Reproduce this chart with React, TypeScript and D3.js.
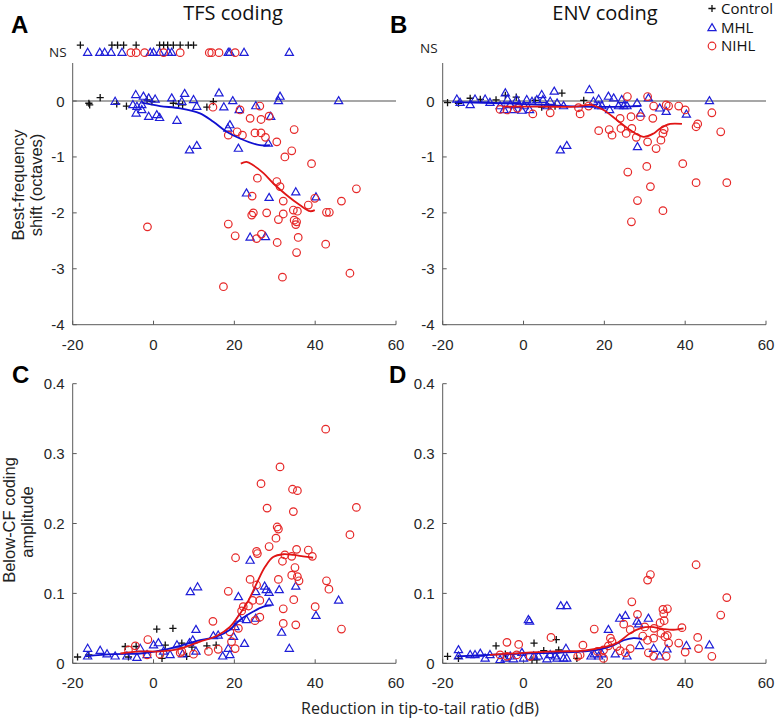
import React from "react";
import * as d3 from "d3";

type P = [number, number];

// ---------- tick labels / text ----------
const xTicks = [-20, 0, 20, 40, 60];
const yTicksShift = [-4, -3, -2, -1, 0];
const yTicksAmp = [0, 0.1, 0.2, 0.3, 0.4];
const panelTitles = ["TFS coding", "ENV coding"];
const panelLetters = ["A", "B", "C", "D"];
const legendLabels = ["Control", "MHL", "NIHL"];
const xLabel = "Reduction in tip-to-tail ratio (dB)";
const yLabelShift = ["Best-frequency", "shift (octaves)"];
const yLabelAmp = ["Below-CF coding", "amplitude"];

// ---------- Panel A : TFS best-frequency shift ----------
const aNsCtrl: P[] = [[-18.1, 1.0], [-10.3, 1.0], [-8.9, 1.0], [-7.4, 1.0], [-4.3, 1.0], [1.5, 1.0], [2.5, 1.0], [3.5, 1.0], [4.9, 1.0], [6.6, 1.0], [8.6, 1.0], [9.9, 1.0]];
const aNsMHL: P[] = [[-16.3, 0.865], [-13.3, 0.865], [-12.1, 0.865], [-10.5, 0.865], [-7.8, 0.865], [-0.8, 0.865], [0, 0.865], [1.5, 0.865], [3.7, 0.865], [4.5, 0.865], [18.5, 0.865], [18.9, 0.865], [22.4, 0.865], [33.6, 0.865]];
const aNsNIHL: P[] = [[-5.6, 0.865], [-4.3, 0.865], [-2.2, 0.865], [2.5, 0.865], [6.6, 0.865], [13.8, 0.865], [14.4, 0.865], [16.2, 0.865], [20.2, 0.865]];
const aCtrl: P[] = [[-16.0, -0.04], [-15.8, -0.07], [-13.2, 0.06], [-9.1, -0.05], [-6.7, -0.09], [-1.6, 0.02], [-0.4, -0.01], [4.9, -0.04], [6.2, -0.05], [7.2, -0.07], [13.2, -0.11], [14.8, -0.01]];
const aMHL: P[] = [[-9.5, -0.01], [-5.1, -0.07], [-4.4, 0.11], [-4.1, -0.1], [-2.9, -0.07], [-4.3, -0.22], [-2.9, -0.16], [-2.5, 0.08], [-1.2, 0.05], [-1.2, -0.28], [0.4, 0.03], [0.8, -0.25], [1.5, -0.3], [4.5, 0.05], [5.8, -0.35], [7.0, -0.01], [7.7, 0.13], [9.9, 0.02], [10.7, -0.1], [16.2, 0.14], [17.4, -0.11], [19.6, 0.0], [21.2, -0.16], [25.3, -0.09], [29.0, -0.28], [18.9, -0.43], [18.4, -0.49], [21.0, -0.85], [8.9, -0.88], [10.7, -0.8], [28.4, -0.76], [31.3, 0.08], [30.9, 0.0], [45.8, 0.0], [23.0, -1.65], [28.6, -1.73], [35.2, -1.63], [40.2, -1.72], [23.9, -2.44], [27.7, -2.43]];
const aNIHL: P[] = [[14.7, -0.11], [21.4, -0.16], [23.9, -0.31], [26.3, -0.09], [26.6, -0.33], [28.6, -0.27], [18.5, -0.61], [20.7, -0.55], [22.0, -0.61], [25.1, -0.57], [26.6, -0.57], [27.7, -0.65], [30.5, -0.73], [34.8, -0.51], [32.5, -1.0], [34.2, -0.89], [39.1, -1.12], [25.7, -1.38], [30.5, -1.44], [31.3, -1.53], [24.4, -1.7], [32.1, -1.79], [24.7, -2.0], [24.3, -2.04], [28.0, -2.0], [32.1, -2.02], [30.9, -2.12], [34.6, -1.95], [35.6, -1.97], [34.8, -2.13], [35.4, -2.16], [35.2, -2.21], [38.3, -1.86], [39.9, -1.74], [46.5, -1.79], [50.2, -1.57], [42.8, -1.99], [43.5, -1.99], [18.5, -2.2], [20.2, -2.41], [25.5, -2.46], [26.7, -2.38], [30.6, -2.53], [35.8, -2.44], [35.4, -2.71], [42.6, -2.56], [48.6, -3.08], [31.9, -3.15], [17.3, -3.32], [-1.5, -2.25]];
const aFitMHL: P[] = [[-3, -0.03], [1.6, -0.09], [6.6, -0.13], [11.5, -0.22], [14.8, -0.37], [18.1, -0.55], [21.4, -0.67], [26.3, -0.79], [28.8, -0.79]];
const aFitNIHL: P[] = [[21.6, -1.12], [23.0, -1.09], [24.7, -1.15], [27.2, -1.29], [29.6, -1.47], [32.9, -1.68], [36.2, -1.86], [38.7, -1.97], [39.9, -1.95]];

// ---------- Panel B : ENV best-frequency shift ----------
const bCtrl: P[] = [[-18.8, -0.03], [-16.1, -0.04], [-13.2, 0.05], [-10.7, 0.03], [-6.8, 0.02], [-4.5, 0.1], [-1.8, 0.07], [2.9, 0.01], [4.5, -0.11], [6.2, -0.1], [7.8, -0.09], [9.5, 0.14], [14.9, 0.01]];
const bMHL: P[] = [[-16.5, 0.03], [-15.7, -0.03], [-13.2, -0.07], [-12.0, 0.03], [-9.5, 0.03], [-8.3, -0.03], [-4.5, 0.14], [-3.96, 0.03], [-3.3, -0.07], [-2.5, -0.16], [-1.7, 0.02], [-1.2, -0.07], [-0.4, -0.17], [0.8, 0.02], [1.5, -0.16], [3.3, 0.02], [4.5, 0.11], [5.8, -0.09], [6.6, -0.01], [7.6, 0.17], [8.3, -0.04], [9.1, -0.88], [10.7, -0.8], [9.9, -0.09], [16.3, 0.2], [17.3, -0.01], [18.6, 0.03], [19.4, -0.09], [21.0, 0.08], [21.3, -0.16], [22.3, 0.05], [23.5, -0.09], [24.3, 0.02], [25.6, -0.09], [28.1, -0.04], [28.2, -0.82], [29.0, -0.22], [30.9, 0.05], [33.7, -0.13], [35.3, -0.19], [40.3, -0.24], [46.0, 0.0], [-5.8, -0.09], [-4.8, -0.16], [0.2, -0.09], [2.1, -0.01], [4.8, 0.02], [18.6, -0.09], [24.8, -0.09]];
const bNIHL: P[] = [[-5.8, -0.15], [-4.1, -0.16], [-1.5, -0.13], [2.3, -0.23], [6.6, -0.21], [14.0, -0.23], [13.6, -0.12], [16.1, -0.09], [18.6, -0.53], [21.2, -0.51], [21.9, -0.61], [23.9, -0.31], [24.1, -0.49], [25.4, -0.58], [25.7, 0.08], [26.6, -0.28], [26.8, -0.49], [27.9, -0.65], [28.9, -0.28], [30.7, 0.08], [30.7, -0.73], [32.0, -0.31], [32.2, -0.09], [32.8, -0.85], [34.0, -0.7], [34.5, -0.58], [34.8, -0.51], [35.3, -0.07], [35.9, -0.09], [38.4, -0.09], [40.0, -0.16], [39.4, -1.12], [42.7, -0.46], [43.1, -0.41], [46.6, -0.21], [48.8, -0.55], [30.5, -1.17], [25.8, -1.27], [42.7, -1.46], [50.3, -1.46], [31.4, -1.53], [28.2, -1.78], [34.5, -1.96], [26.7, -2.16]];
const bFitMHL: P[] = [[-17, -0.02], [-5, -0.04], [5, -0.07], [15, -0.1], [25, -0.1], [29, -0.09]];
const bFitNIHL: P[] = [[-5, -0.1], [5, -0.1], [12.8, -0.1], [16.5, -0.07], [19.8, -0.16], [23.1, -0.34], [26.4, -0.52], [29.7, -0.64], [32.2, -0.58], [33.8, -0.49], [36.3, -0.41], [39.2, -0.41]];

// ---------- Panel C : TFS below-CF amplitude ----------
const cCtrl: P[] = [[-18.8, 0.009], [-16.0, 0.012], [-7.0, 0.024], [-4.3, 0.024], [0.8, 0.049], [4.8, 0.05], [2.9, 0.026], [7.0, 0.029], [8.2, 0.01], [9.5, 0.023], [13.2, 0.025], [15.5, 0.026], [-6.2, 0.009], [2.1, 0.007]];
const cMHL: P[] = [[-16.3, 0.021], [-16.3, 0.01], [-13.2, 0.018], [-11.5, 0.013], [-9.5, 0.01], [-6.6, 0.01], [-4.1, 0.008], [-3.3, 0.021], [-1.6, 0.012], [0, 0.026], [1.2, 0.029], [2.5, 0.017], [4.1, 0.012], [5.8, 0.026], [7.2, 0.013], [8.9, 0.029], [9.7, 0.033], [10.5, 0.048], [10.5, 0.017], [9.1, 0.102], [10.9, 0.109], [14.8, 0.039], [16.0, 0.04], [17.1, 0.01], [18.5, 0.021], [18.9, 0.012], [19.8, 0.038], [20.2, 0.052], [21.0, 0.095], [21.2, 0.064], [22.5, 0.028], [23.0, 0.062], [23.9, 0.147], [25.3, 0.102], [25.3, 0.064], [27.5, 0.11], [27.9, 0.105], [28.6, 0.101], [28.6, 0.087], [31.1, 0.105], [31.7, 0.044], [33.6, 0.021], [35.2, 0.11], [40.2, 0.068], [45.8, 0.09]];
const cNIHL: P[] = [[42.6, 0.335], [31.3, 0.281], [26.6, 0.257], [34.4, 0.249], [35.6, 0.247], [28.1, 0.222], [34.6, 0.217], [50.2, 0.223], [30.6, 0.195], [30.9, 0.192], [30.3, 0.179], [48.6, 0.184], [28.6, 0.167], [35.4, 0.163], [38.3, 0.162], [25.5, 0.16], [20.3, 0.151], [25.7, 0.157], [32.5, 0.155], [31.9, 0.146], [34.2, 0.153], [39.3, 0.153], [23.9, 0.12], [25.5, 0.112], [30.9, 0.12], [35.0, 0.137], [34.2, 0.126], [35.6, 0.124], [36.0, 0.118], [42.8, 0.118], [43.4, 0.106], [18.5, 0.103], [26.3, 0.09], [24.5, 0.09], [22.2, 0.081], [21.8, 0.075], [23.5, 0.082], [32.1, 0.078], [40.0, 0.081], [25.1, 0.061], [26.3, 0.066], [32.1, 0.057], [35.2, 0.055], [21.0, 0.05], [46.5, 0.049], [34.7, 0.091], [14.7, 0.06], [-1.4, 0.034], [-4.5, 0.025], [-1.6, 0.012], [13.6, 0.017], [16.0, 0.02], [20.2, 0.021], [7.0, 0.017], [-6.2, 0.019], [6.6, 0.015], [9.9, 0.013], [1.6, 0.013], [19.3, 0.031], [18.9, 0.045]];
const cFitMHL: P[] = [[-16.9, 0.01], [-9.9, 0.013], [-3.3, 0.014], [1.6, 0.018], [6.6, 0.025], [11.5, 0.033], [15.6, 0.038], [18.9, 0.048], [21.4, 0.062], [24.7, 0.074], [27.2, 0.081], [29.2, 0.083]];
const cFitNIHL: P[] = [[-8.2, 0.014], [-3.3, 0.017], [1.6, 0.017], [6.6, 0.021], [11.5, 0.031], [15.6, 0.039], [18.9, 0.052], [21.4, 0.071], [23.5, 0.09], [25.5, 0.114], [27.6, 0.138], [29.6, 0.152], [32.1, 0.156], [34.6, 0.155], [37.0, 0.153], [39.5, 0.151]];

// ---------- Panel D : ENV below-CF amplitude ----------
const dCtrl: P[] = [[-18.8, 0.01], [-16.1, 0.007], [-6.8, 0.025], [-4.5, 0.013], [2.6, 0.029], [5.0, 0.018], [8.1, 0.034], [8.7, 0.019], [13.2, 0.007], [2.1, 0.005], [3.3, 0.005]];
const dMHL: P[] = [[-16.1, 0.019], [-16.1, 0.01], [-13.2, 0.012], [-12.0, 0.012], [-10.7, 0.014], [-9.5, 0.007], [-8.3, 0.012], [-5.8, 0.005], [-4.5, 0.007], [-3.3, 0.01], [-2.5, 0.006], [-0.4, 0.015], [0, 0.007], [1.2, 0.062], [1.5, 0.06], [2.5, 0.01], [3.7, 0.01], [5.8, 0.006], [6.6, 0.012], [7.8, 0.01], [8.3, 0.007], [9.2, 0.082], [10.7, 0.082], [10.5, 0.021], [9.9, 0.007], [10.7, 0.007], [16.7, 0.01], [17.5, 0.013], [18.6, 0.01], [19.4, 0.013], [21.0, 0.048], [22.7, 0.013], [23.8, 0.064], [25.2, 0.068], [25.6, 0.01], [28.1, 0.06], [28.5, 0.056], [28.7, 0.025], [30.9, 0.064], [32.2, 0.021], [33.7, 0.01], [35.5, 0.02], [40.3, 0.025], [46.0, 0.026]];
const dNIHL: P[] = [[42.7, 0.141], [31.4, 0.127], [30.7, 0.119], [50.3, 0.094], [26.8, 0.088], [48.8, 0.069], [28.2, 0.07], [34.5, 0.077], [35.6, 0.078], [34.7, 0.071], [34.8, 0.061], [33.8, 0.058], [17.5, 0.049], [24.8, 0.056], [26.4, 0.048], [30.0, 0.052], [32.3, 0.05], [34.0, 0.043], [35.0, 0.038], [35.9, 0.029], [35.6, 0.04], [32.2, 0.036], [30.7, 0.033], [29.5, 0.039], [39.2, 0.051], [38.4, 0.029], [43.1, 0.037], [43.3, 0.021], [40.0, 0.016], [46.6, 0.01], [35.3, 0.01], [32.2, 0.01], [30.9, 0.015], [21.5, 0.036], [21.9, 0.031], [23.1, 0.024], [23.9, 0.018], [26.4, 0.021], [25.2, 0.015], [21.0, 0.025], [19.8, 0.019], [18.3, 0.017], [14.7, 0.026], [14.0, 0.012], [13.4, 0.01], [6.8, 0.037], [-1.2, 0.027], [-4.1, 0.03], [-5.8, 0.012], [-4.1, 0.01], [-1.7, 0.012], [1.65, 0.01], [19.8, 0.007]];
const dFitMHL: P[] = [[-16.5, 0.01], [-8.3, 0.012], [0, 0.014], [8.3, 0.015], [14.9, 0.017], [19.0, 0.02], [22.3, 0.026], [24.8, 0.033], [27.2, 0.036], [29.3, 0.035]];
const dFitNIHL: P[] = [[-8.3, 0.012], [0, 0.015], [8.3, 0.017], [14.9, 0.018], [19.8, 0.023], [23.1, 0.029], [26.4, 0.043], [28.9, 0.05], [31.4, 0.052], [34.7, 0.049], [37.1, 0.048], [39.6, 0.05]];

// ---------- styles ----------
const BLUE = "#1e1ed8";
const RED = "#e62828";
const BLACK = "#111";
const AXIS = "#5a5a5a";
const TICKTXT = "#262626";
const SANS = "'Liberation Sans', Arial, sans-serif";
const OPEN = "'Open Sans', sans-serif";

const triPath = "M0,-4.4L4.1,2.7L-4.1,2.7Z";
const plusPath = "M-3.6,0H3.6M0,-3.6V3.6";

function Marks({ pts, kind, x, y }: { pts: P[]; kind: string; x: any; y: any }) {
  return (
    <g>
      {pts.map((p, i) => {
        const tx = x(p[0]);
        const ty = y(p[1]);
        if (kind === "ctrl")
          return <path key={i} d={plusPath} transform={`translate(${tx},${ty})`} stroke={BLACK} strokeWidth={1.3} fill="none" />;
        if (kind === "mhl")
          return <path key={i} d={triPath} transform={`translate(${tx},${ty})`} stroke={BLUE} strokeWidth={1.2} fill="none" />;
        return <circle key={i} cx={tx} cy={ty} r={3.8} stroke={RED} strokeWidth={1.2} fill="none" />;
      })}
    </g>
  );
}

type PanelProps = {
  x0: number; x1: number; yTop: number; yBot: number;
  yDomain: [number, number]; yTicks: number[];
  ctrl: P[]; mhl: P[]; nihl: P[]; fitM: P[]; fitN: P[];
  zeroLine?: boolean;
  nsCtrl?: P[]; nsMHL?: P[]; nsNIHL?: P[];
};

function Panel(p: PanelProps) {
  const x = d3.scaleLinear().domain([xTicks[0], xTicks[xTicks.length - 1]]).range([p.x0, p.x1]);
  const y = d3.scaleLinear().domain(p.yDomain).range([p.yBot, p.yTop]);
  const line = d3.line<P>().x((d) => x(d[0])).y((d) => y(d[1])).curve(d3.curveCatmullRom.alpha(0.5));
  const fmt = (v: number) => String(v);
  return (
    <g>
      {p.zeroLine && <line x1={p.x0} x2={p.x1} y1={y(0)} y2={y(0)} stroke="#8a8a8a" strokeWidth={1.3} />}
      <line x1={p.x0} x2={p.x1} y1={p.yBot} y2={p.yBot} stroke={AXIS} strokeWidth={1} />
      <line x1={p.x0} x2={p.x0} y1={p.yBot} y2={p.yTop} stroke={AXIS} strokeWidth={1} />
      {xTicks.map((t) => (
        <g key={"x" + t}>
          <line x1={x(t)} x2={x(t)} y1={p.yBot} y2={p.yBot - 4} stroke={AXIS} strokeWidth={1} />
          <text x={x(t)} y={p.yBot + 25} textAnchor="middle" fontFamily={SANS} fontSize={15} fill={TICKTXT}>{fmt(t)}</text>
        </g>
      ))}
      {p.yTicks.map((t) => (
        <g key={"y" + t}>
          <line x1={p.x0} x2={p.x0 + 4} y1={y(t)} y2={y(t)} stroke={AXIS} strokeWidth={1} />
          <text x={p.x0 - 8} y={y(t) + 5.5} textAnchor="end" fontFamily={SANS} fontSize={15} fill={TICKTXT}>{fmt(t)}</text>
        </g>
      ))}
      <Marks pts={p.ctrl} kind="ctrl" x={x} y={y} />
      <Marks pts={p.mhl} kind="mhl" x={x} y={y} />
      <Marks pts={p.nihl} kind="nihl" x={x} y={y} />
      {p.nsCtrl && <Marks pts={p.nsCtrl} kind="ctrl" x={x} y={y} />}
      {p.nsMHL && <Marks pts={p.nsMHL} kind="mhl" x={x} y={y} />}
      {p.nsNIHL && <Marks pts={p.nsNIHL} kind="nihl" x={x} y={y} />}
      <path d={line(p.fitM) || ""} fill="none" stroke="#1010d0" strokeWidth={1.8} />
      <path d={line(p.fitN) || ""} fill="none" stroke="#e01515" strokeWidth={1.8} />
    </g>
  );
}

export default function App() {
  const W = 775, H = 719;
  const shiftDom: [number, number] = [-4, 0.68];
  const ampDom: [number, number] = [0, 0.4];
  return (
    <svg width={W} height={H} style={{ position: "absolute", left: 0, top: 0, background: "#fff" }}>
      <rect width={W} height={H} fill="#fff" />
      {/* titles */}
      <text x={233} y={19.5} textAnchor="middle" fontFamily={OPEN} fontSize={20} fill="#111">{panelTitles[0]}</text>
      <text x={605} y={19.5} textAnchor="middle" fontFamily={OPEN} fontSize={20} fill="#111">{panelTitles[1]}</text>
      {/* panel letters */}
      <text x={11} y={33} fontFamily={SANS} fontWeight="bold" fontSize={24} fill="#000">{panelLetters[0]}</text>
      <text x={390} y={33} fontFamily={SANS} fontWeight="bold" fontSize={24} fill="#000">{panelLetters[1]}</text>
      <text x={12} y={383} fontFamily={SANS} fontWeight="bold" fontSize={24} fill="#000">{panelLetters[2]}</text>
      <text x={389} y={383} fontFamily={SANS} fontWeight="bold" fontSize={24} fill="#000">{panelLetters[3]}</text>
      {/* NS labels */}
      <text x={49} y={57} fontFamily={OPEN} fontSize={13.5} fill="#222">NS</text>
      <text x={420} y={53} fontFamily={OPEN} fontSize={13.5} fill="#222">NS</text>
      {/* legend */}
      <path d={plusPath} transform="translate(712,8.5)" stroke={BLACK} strokeWidth={1.3} fill="none" />
      <text x={721} y={13.5} fontFamily={OPEN} fontSize={15} fill="#111">{legendLabels[0]}</text>
      <path d={triPath} transform="translate(712,28)" stroke={BLUE} strokeWidth={1.2} fill="none" />
      <text x={721} y={32.5} fontFamily={OPEN} fontSize={15} fill="#111">{legendLabels[1]}</text>
      <circle cx={712} cy={46} r={3.8} stroke={RED} strokeWidth={1.2} fill="none" />
      <text x={721} y={51} fontFamily={OPEN} fontSize={15} fill="#111">{legendLabels[2]}</text>

      <Panel x0={72.7} x1={396} yTop={63} yBot={324.7} yDomain={shiftDom} yTicks={yTicksShift}
        ctrl={aCtrl} mhl={aMHL} nihl={aNIHL} fitM={aFitMHL} fitN={aFitNIHL} zeroLine
        nsCtrl={aNsCtrl} nsMHL={aNsMHL} nsNIHL={aNsNIHL} />
      <Panel x0={442.7} x1={766} yTop={63} yBot={324.7} yDomain={shiftDom} yTicks={yTicksShift}
        ctrl={bCtrl} mhl={bMHL} nihl={bNIHL} fitM={bFitMHL} fitN={bFitNIHL} zeroLine />
      <Panel x0={72.7} x1={396} yTop={383.7} yBot={663.3} yDomain={ampDom} yTicks={yTicksAmp}
        ctrl={cCtrl} mhl={cMHL} nihl={cNIHL} fitM={cFitMHL} fitN={cFitNIHL} />
      <Panel x0={442.7} x1={766} yTop={383.7} yBot={663.3} yDomain={ampDom} yTicks={yTicksAmp}
        ctrl={dCtrl} mhl={dMHL} nihl={dNIHL} fitM={dFitMHL} fitN={dFitNIHL} />

      {/* y labels */}
      <g transform="translate(23.5,185) rotate(-90)">
        <text textAnchor="middle" fontFamily={SANS} fontSize={16.5} fill="#222">{yLabelShift[0]}</text>
      </g>
      <g transform="translate(42,185) rotate(-90)">
        <text textAnchor="middle" fontFamily={SANS} fontSize={16.5} fill="#222">{yLabelShift[1]}</text>
      </g>
      <g transform="translate(14.5,520) rotate(-90)">
        <text textAnchor="middle" fontFamily={SANS} fontSize={16.5} fill="#222">{yLabelAmp[0]}</text>
      </g>
      <g transform="translate(33,522) rotate(-90)">
        <text textAnchor="middle" fontFamily={SANS} fontSize={16.5} fill="#222">{yLabelAmp[1]}</text>
      </g>
      {/* x label */}
      <text x={420} y={714} textAnchor="middle" fontFamily={OPEN} fontSize={16} fill="#222">{xLabel}</text>
    </svg>
  );
}
